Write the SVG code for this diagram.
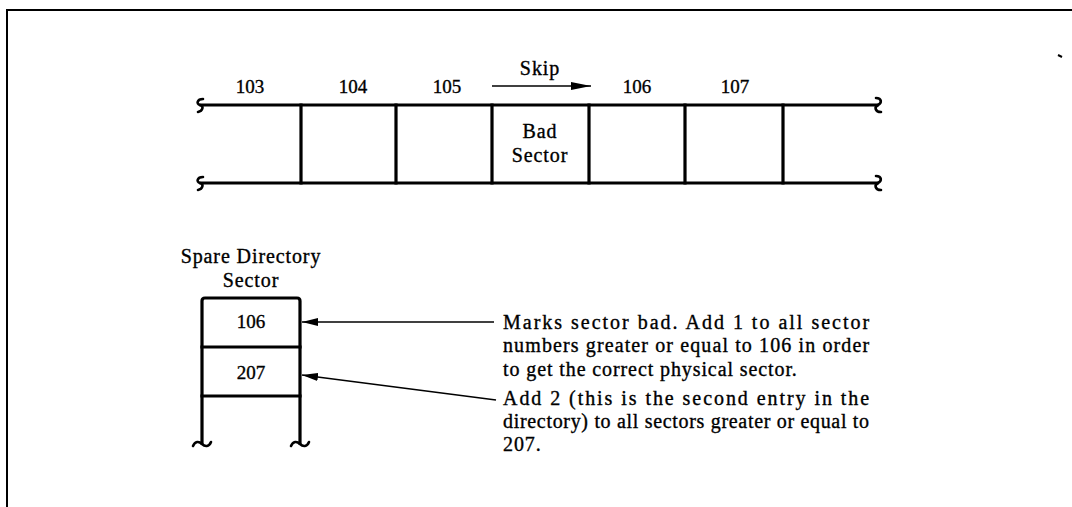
<svg xmlns="http://www.w3.org/2000/svg" width="1072" height="507" viewBox="0 0 1072 507">
  <style>
    text { font-family: 'Liberation Serif', 'DejaVu Serif', serif; fill: #000; stroke: #000; stroke-width: 0.35px; }
    .txt { font-size: 20px; letter-spacing: 0.9px; }
    .num { font-size: 19px; }
    .heavy { stroke: #000; stroke-width: 3.2; fill: none; stroke-linecap: square; }
    .squig { stroke: #000; stroke-width: 2.6; fill: none; stroke-linecap: round; }
    .thin { stroke: #000; stroke-width: 1.6; fill: none; }
    .frame { stroke: #000; stroke-width: 2; fill: none; }
  </style>
  <defs>
    <marker id="head" viewBox="0 0 16 8" refX="16" refY="4" markerWidth="16" markerHeight="8" markerUnits="userSpaceOnUse" orient="auto">
      <path d="M0,0 L16,4 L0,8 Z" fill="#000"/>
    </marker>
    <marker id="skiphead" viewBox="0 0 20 8" refX="20" refY="4" markerWidth="20" markerHeight="8" markerUnits="userSpaceOnUse" orient="auto">
      <path d="M0,0 L20,4 L0,8 Z" fill="#000"/>
    </marker>
  </defs>

  <rect width="1072" height="507" fill="#fff"/>

  <!-- page frame -->
  <g id="frame">
    <path class="frame" d="M7,507 L7,10 L1072,10"/>
    <path d="M1058,55 L1062,57" stroke="#000" stroke-width="2"/>
  </g>

  <!-- track of physical sectors -->
  <g id="track">
    <path class="heavy" d="M201,105 L877,105 M201,183 L877,183"/>
    <path class="heavy" d="M301,105 V183 M396,105 V183 M492,105 V183 M589,105 V183 M685,105 V183 M783,105 V183"/>
    <path class="squig" d="M203,99 C197,99 196,104 200,105 C204,106 203,111 198,112"/>
    <path class="squig" d="M203,177 C197,177 196,182 200,183 C204,184 203,189 198,190"/>
    <path class="squig" d="M876,98 C882,98 882,103 878,105 C874,107 875,112 881,112"/>
    <path class="squig" d="M876,176 C882,176 882,181 878,183 C874,185 875,190 881,190"/>
  </g>

  <g id="label-103"><text class="num" x="250" y="93" text-anchor="middle">103</text></g>
  <g id="label-104"><text class="num" x="353" y="93" text-anchor="middle">104</text></g>
  <g id="label-105"><text class="num" x="447" y="93" text-anchor="middle">105</text></g>
  <g id="label-106"><text class="num" x="637" y="93" text-anchor="middle">106</text></g>
  <g id="label-107"><text class="num" x="735" y="93" text-anchor="middle">107</text></g>

  <g id="bad-sector">
    <text class="txt" x="540" y="138" text-anchor="middle">Bad</text>
    <text class="txt" x="540" y="162" text-anchor="middle">Sector</text>
  </g>

  <g id="skip">
    <text class="txt" x="540" y="75" text-anchor="middle">Skip</text>
  </g>

  <!-- spare directory sector -->
  <g id="spare-directory">
    <text class="txt" x="251" y="263" text-anchor="middle">Spare Directory</text>
    <text class="txt" x="251" y="287" text-anchor="middle">Sector</text>
    <path class="heavy" d="M202,443 V301 Q202,298 205,298 H297 Q300,298 300,301 V443" stroke-linecap="butt"/>
    <path class="heavy" d="M202,347 H300 M202,396 H300"/>
    <path class="squig" d="M193,446 C195,441 199,441 202,444 C205,447 209,447 211,442"/>
    <path class="squig" d="M291,446 C293,441 297,441 300,444 C303,447 307,447 309,442"/>
  </g>
  <g id="entry-106"><text class="num" x="251" y="328" text-anchor="middle">106</text></g>
  <g id="entry-207"><text class="num" x="251" y="379" text-anchor="middle">207</text></g>

  <!-- explanatory notes -->
  <g id="note-106">
    <text class="txt" x="503" y="329" textLength="367" lengthAdjust="spacing">Marks sector bad. Add 1 to all sector</text>
    <text class="txt" x="503" y="352" textLength="367" lengthAdjust="spacing">numbers greater or equal to 106 in order</text>
    <text class="txt" x="503" y="376">to get the correct physical sector.</text>
  </g>
  <g id="note-207">
    <text class="txt" x="503" y="405" textLength="367" lengthAdjust="spacing">Add 2 (this is the second entry in the</text>
    <text class="txt" x="503" y="428" textLength="367" lengthAdjust="spacing">directory) to all sectors greater or equal to</text>
    <text class="txt" x="503" y="451">207.</text>
  </g>

  <g id="connectors">
    <path class="thin" d="M492,86 L591,86" marker-end="url(#skiphead)"/>
    <path class="thin" d="M494,322 L302,322" marker-end="url(#head)"/>
    <path class="thin" d="M496,400 L302,375" marker-end="url(#head)"/>
  </g>
</svg>
